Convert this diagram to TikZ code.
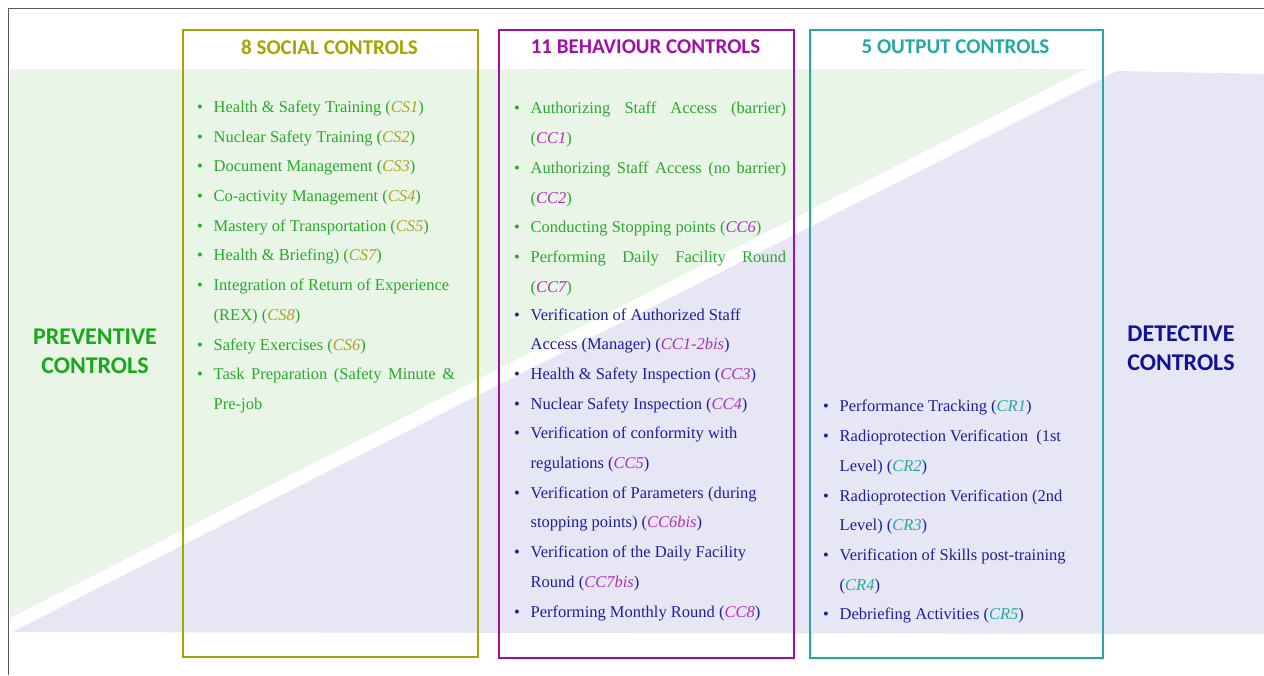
\documentclass[tikz,border=0pt]{standalone}
\usepackage{fontspec}
\setmainfont{Liberation Serif}
\newfontfamily\bodyfont{Liberation Serif}
\newfontfamily\titlefont{Carlito}
\definecolor{fillgreen}{HTML}{E8F5E7}
\definecolor{filllav}{HTML}{E6E6F4}
\definecolor{olv}{HTML}{A4A600}
\definecolor{olvcode}{HTML}{A8A620}
\definecolor{prp}{HTML}{A010A8}
\definecolor{prpcode}{HTML}{B030B8}
\definecolor{tel}{HTML}{22A9A2}
\definecolor{grn}{HTML}{2AAA2A}
\definecolor{grnhead}{HTML}{18A818}
\definecolor{blu}{HTML}{1E1E9E}
\definecolor{bluhead}{HTML}{10109A}
\definecolor{framegray}{HTML}{5A5A5A}
\newcommand\itm[1]{\par\noindent\hangindent=16.5pt\hangafter=1\strut\makebox[16.5pt][l]{\textbullet}#1}
\newcommand\cscode[1]{(\textit{\textcolor{olvcode}{#1}})}
\newcommand\cccode[1]{(\textit{\textcolor{prpcode}{#1}})}
\newcommand\crcode[1]{(\textit{\textcolor{tel}{#1}})}
\tikzset{
  ctlbox/.style={draw, line width=2pt, fill=none},
  boxtitle/.style={font=\titlefont\bfseries\fontsize{21}{25}\selectfont, inner sep=0pt},
  sidehead/.style={font=\titlefont\bfseries\fontsize{24}{29}\selectfont, align=center, inner sep=0pt},
  itemlist/.style={anchor=north west, inner sep=0pt, align=justify, font=\bodyfont\fontsize{16.5}{29.7}\selectfont}
}
\begin{document}
\begin{tikzpicture}[x=1pt,y=-1pt]
\useasboundingbox (0,0) rectangle (1264,675);
\fill[white] (0,0) rectangle (1264,675);
% background bands
\fill[fillgreen] (10,69) -- (1086,69) -- (10,618) -- cycle;
\fill[filllav] (12,632) -- (1117,71) -- (1264,74) -- (1264,634) -- cycle;
% frame
\draw[framegray, line width=1.5pt] (8.5,675) -- (8.5,8.5) -- (1264,8.5);
% boxes
\node[ctlbox, draw=olv, minimum width=295pt, minimum height=627pt, anchor=north west] (social) at (182,29) {};
\node[ctlbox, draw=prp, minimum width=295pt, minimum height=628pt, anchor=north west] (behav) at (498,29) {};
\node[ctlbox, draw=tel, minimum width=293pt, minimum height=628pt, anchor=north west] (output) at (809,29) {};
% titles
\node[boxtitle, text=olv] (socialtitle) at (329.5,47) {8 SOCIAL CONTROLS};
\node[boxtitle, text=prp] (behavtitle) at (645.5,47) {11 BEHAVIOUR CONTROLS};
\node[boxtitle, text=tel] (outputtitle) at (955.5,47) {5 OUTPUT CONTROLS};
% side headings
\node[sidehead, text=grnhead] (prev) at (95,351.5) {PREVENTIVE\\CONTROLS};
\node[sidehead, text=bluhead] (detect) at (1181,348) {DETECTIVE\\CONTROLS};
% lists
\node[itemlist, text width=258pt, text=grn] (sociallist) at (197,82.5) {%
\itm{Health \& Safety Training \cscode{CS1}}
\itm{Nuclear Safety Training \cscode{CS2}}
\itm{Document Management \cscode{CS3}}
\itm{Co-activity Management \cscode{CS4}}
\itm{Mastery of Transportation \cscode{CS5}}
\itm{Health \& Briefing) \cscode{CS7}}
\itm{Integration of Return of Experience\newline (REX) \cscode{CS8}}
\itm{Safety Exercises \cscode{CS6}}
\itm{Task Preparation (Safety Minute \&\linebreak Pre-job}\par};
\node[itemlist, text width=272pt, text=grn] (behavlist) at (514,84) {%
\itm{Authorizing Staff Access (barrier)\linebreak \cccode{CC1}}
\itm{Authorizing Staff Access (no barrier)\linebreak \cccode{CC2}}
\itm{Conducting Stopping points \cccode{CC6}}
\itm{Performing Daily Facility Round\linebreak \cccode{CC7}}\par
\vspace{-1.8pt}\color{blu}%
\itm{Verification of Authorized Staff\newline Access (Manager) \cccode{CC1-2bis}}
\itm{Health \& Safety Inspection \cccode{CC3}}
\itm{Nuclear Safety Inspection \cccode{CC4}}
\itm{Verification of conformity with\newline regulations \cccode{CC5}}
\itm{Verification of Parameters (during\newline stopping points) \cccode{CC6bis}}
\itm{Verification of the Daily Facility\newline Round \cccode{CC7bis}}
\itm{Performing Monthly Round \cccode{CC8}}\par};
\node[itemlist, text width=246pt, text=blu] (outputlist) at (823,382) {%
\itm{Performance Tracking \crcode{CR1}}
\itm{Radioprotection Verification\ \ (1st\newline Level) \crcode{CR2}}
\itm{Radioprotection Verification (2nd\newline Level) \crcode{CR3}}
\itm{Verification of Skills post-training\newline \crcode{CR4}}
\itm{Debriefing Activities \crcode{CR5}}\par};
\end{tikzpicture}
\end{document}
